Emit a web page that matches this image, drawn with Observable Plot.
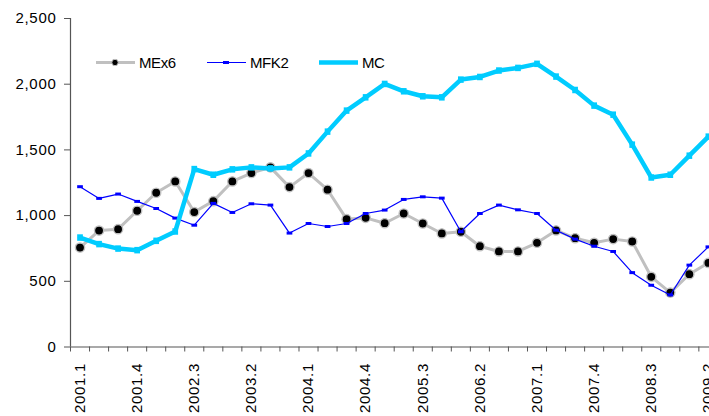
<!DOCTYPE html>
<html>
<head>
<meta charset="utf-8">
<script src="https://cdn.jsdelivr.net/npm/d3@7"></script>
<script src="https://cdn.jsdelivr.net/npm/@observablehq/plot@0.6"></script>
<style>
  html, body { margin: 0; padding: 0; background: #fff; }
  #wrap { position: relative; width: 709px; height: 416px; overflow: hidden; background: #fff; }
  #wrap svg { position: absolute; left: 0; top: 0; max-width: none !important; }
</style>
</head>
<body>
<div id="wrap"></div>
<script>
// Quarterly series, 2001.1 – 2009.2
const quarters = [
  "2001.1","2001.2","2001.3","2001.4","2002.1","2002.2","2002.3","2002.4",
  "2003.1","2003.2","2003.3","2003.4","2004.1","2004.2","2004.3","2004.4",
  "2005.1","2005.2","2005.3","2005.4","2006.1","2006.2","2006.3","2006.4",
  "2007.1","2007.2","2007.3","2007.4","2008.1","2008.2","2008.3","2008.4",
  "2009.1","2009.2"
];
const mex6 = [757, 886, 897, 1037, 1174, 1260, 1027, 1110, 1260, 1324, 1367, 1217, 1324, 1197, 973, 983,
              942, 1016, 940, 864, 877, 767, 727, 727, 793, 887, 828, 793, 821, 803, 534, 414, 554, 640];
const mfk2 = [1220, 1131, 1164, 1108, 1054, 981, 927, 1093, 1024, 1090, 1080, 867, 940, 917, 940, 1016,
              1042, 1123, 1143, 1133, 877, 1016, 1080, 1044, 1016, 889, 821, 767, 727, 566, 470, 396, 623, 762];
const mc   = [833, 783, 749, 737, 808, 879, 1354, 1311, 1352, 1367, 1359, 1367, 1473, 1639, 1799, 1900,
              2002, 1946, 1908, 1900, 2035, 2055, 2104, 2124, 2155, 2058, 1956, 1837, 1768, 1540, 1290, 1311, 1456, 1601];
const yTicks = [0, 500, 1000, 1500, 2000, 2500];
const labelEvery = 3;

const rows = quarters.map((q, i) => ({i, q, mex6: mex6[i], mfk2: mfk2[i], mc: mc[i]}));
const cx = d => d.i + 0.5;           // category centre
const half = 0.15;                   // half-width of the dash markers, in category units
const labelPos = d3.range(0, quarters.length, labelEvery).map(i => i + 0.5);

const AXIS = "#555";
const FONT = "'Liberation Sans', Arial, sans-serif";

const chart = Plot.plot({
  width: 730,
  height: 416,
  marginLeft: 70,
  marginRight: 12.6,
  marginTop: 18,
  marginBottom: 69.5,
  x: {domain: [0, quarters.length], axis: null},
  y: {domain: [0, 2500], axis: null},
  style: {fontFamily: FONT, fontSize: "15px", letterSpacing: "0.7px", color: "#000",
          background: "transparent", overflow: "visible", maxWidth: "none"},
  marks: [
    Plot.axisY({ticks: yTicks, tickFormat: d3.format(","), tickSize: 6, tickPadding: 8, fontSize: 15, stroke: AXIS}),
    Plot.ruleX([0], {stroke: AXIS, strokeWidth: 1.2}),
    Plot.ruleY([0], {stroke: AXIS, strokeWidth: 1.2}),
    Plot.axisX({ticks: d3.range(0, quarters.length + 1), tickSize: 5, tickFormat: () => "", stroke: AXIS}),
    Plot.axisX({ticks: labelPos, tickSize: 0, tickPadding: 16, tickRotate: -90, fontSize: 15,
                tickFormat: d => quarters[Math.floor(d)]}),
    // MEx6
    Plot.line(rows, {x: cx, y: "mex6", stroke: "#c0c0c0", strokeWidth: 3}),
    Plot.dot(rows, {x: cx, y: "mex6", r: 4.6, fill: "#000", stroke: "#c0c0c0", strokeWidth: 1.4}),
    // MFK2
    Plot.line(rows, {x: cx, y: "mfk2", stroke: "#0000ff", strokeWidth: 1.2}),
    Plot.link(rows, {x1: d => cx(d) - half, x2: d => cx(d) + half, y1: "mfk2", y2: "mfk2",
                     stroke: "#0000ff", strokeWidth: 3}),
    // MC
    Plot.line(rows, {x: cx, y: "mc", stroke: "#00ccff", strokeWidth: 4.5}),
    Plot.link(rows, {x1: d => cx(d) - half, x2: d => cx(d) + half, y1: "mc", y2: "mc",
                     stroke: "#00ccff", strokeWidth: 6.5})
  ]
});
document.getElementById("wrap").appendChild(chart);

// Legend, drawn inside the plotting area
const legendItems = [
  {name: "MEx6", stroke: "#c0c0c0", width: 3, marker: "dot"},
  {name: "MFK2", stroke: "#0000ff", width: 1.2, marker: "dash"},
  {name: "MC", stroke: "#00ccff", width: 4.5, marker: null}
];
const lx = [96, 207, 319];
const ly = 62.5;
const legend = d3.select("#wrap").append("svg")
  .attr("width", 709).attr("height", 416)
  .style("pointer-events", "none");
legendItems.forEach((it, k) => {
  const g = legend.append("g").attr("transform", `translate(${lx[k]},${ly})`);
  g.append("line").attr("x1", 0).attr("x2", 39).attr("y1", 0).attr("y2", 0)
    .attr("stroke", it.stroke).attr("stroke-width", it.width);
  if (it.marker === "dot") {
    g.append("circle").attr("cx", 19).attr("cy", 0).attr("r", 3.2)
      .attr("fill", "#000").attr("stroke", "#c0c0c0").attr("stroke-width", 1);
  } else if (it.marker === "dash") {
    g.append("line").attr("x1", 16).attr("x2", 22).attr("y1", 0).attr("y2", 0)
      .attr("stroke", it.stroke).attr("stroke-width", 3);
  }
  g.append("text").attr("x", 43).attr("y", 5.5)
    .attr("font-family", FONT).attr("font-size", 15).attr("letter-spacing", "-0.4px").attr("fill", "#000")
    .text(it.name);
});
</script>
</body>
</html>
